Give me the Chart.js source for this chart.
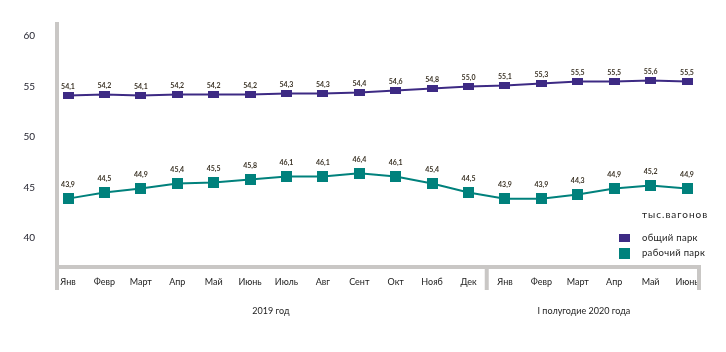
<!DOCTYPE html>
<html lang="ru">
<head>
<meta charset="utf-8">
<title>Парк вагонов</title>
<script src="https://cdn.jsdelivr.net/npm/chart.js@4/dist/chart.umd.min.js"></script>
<style>
  html, body { margin: 0; padding: 0; background: #fff; }
  #wrap { width: 726px; height: 352px; position: relative; }
</style>
</head>
<body>
<div id="wrap"><canvas id="grafico"></canvas></div>
<script>
const meses = ["Янв", "Февр", "Март", "Апр", "Май", "Июнь", "Июль", "Авг", "Сент", "Окт", "Нояб", "Дек",
  "Янв", "Февр", "Март", "Апр", "Май", "Июнь"];
const grupos = [
  { label: "2019 год", from: 0, to: 11 },
  { label: "I полугодие 2020 года", from: 12, to: 17 },
];
const obshchiyPark = [54.1, 54.2, 54.1, 54.2, 54.2, 54.2, 54.3, 54.3, 54.4, 54.6, 54.8, 55.0,
  55.1, 55.3, 55.5, 55.5, 55.6, 55.5];
const rabochiyPark = [43.9, 44.5, 44.9, 45.4, 45.5, 45.8, 46.1, 46.1, 46.4, 46.1, 45.4, 44.5,
  43.9, 43.9, 44.3, 44.9, 45.2, 44.9];
const yTicks = [40, 45, 50, 55, 60];
const unidade = "тыс.вагонов";

const FONT = "Lato, 'Open Sans', sans-serif";
const ROXO = "#3d2a84";
const VERDE = "#00817c";
const CINZA = "#c9c7c5";

function marcador(w, h, cor) {
  const c = document.createElement("canvas");
  c.width = w;
  c.height = h;
  const ctx = c.getContext("2d");
  ctx.fillStyle = cor;
  ctx.fillRect(0, 0, w, h);
  return c;
}

const marcadorRoxo = marcador(11, 7, ROXO);
const marcadorVerde = marcador(11, 11, VERDE);

function formatar(v) {
  return v.toFixed(1).replace(".", ",");
}

// lines, group captions, value labels and legend
const extras = {
  id: "extras",
  afterDatasetsDraw(chart) {
    const ctx = chart.ctx;
    const area = chart.chartArea;
    const x = chart.scales.x;
    const esq = area.left - 11;
    const dir = area.right + 12;
    const base = area.bottom + 1;
    const sep = (x.getPixelForValue(11) + x.getPixelForValue(12)) / 2;

    ctx.save();
    ctx.strokeStyle = CINZA;
    ctx.lineWidth = 4;
    ctx.beginPath();
    ctx.moveTo(esq, 22);
    ctx.lineTo(esq, 290);
    ctx.moveTo(esq, base);
    ctx.lineTo(dir + 2, base);
    ctx.moveTo(sep, base);
    ctx.lineTo(sep, 290);
    ctx.moveTo(dir, base);
    ctx.lineTo(dir, 290);
    ctx.stroke();

    ctx.fillStyle = "#222";
    ctx.font = "9px " + FONT;
    ctx.textAlign = "center";
    ctx.textBaseline = "middle";
    const limites = [esq, sep, dir];
    grupos.forEach((g, i) => {
      const cx = (limites[i] + limites[i + 1]) / 2 - (i === 1 ? 9 : 1);
      ctx.fillText(g.label, cx, 311);
    });

    // value labels
    ctx.font = "bold 7px " + FONT;
    ctx.fillStyle = "#3b3326";
    chart.data.datasets.forEach((ds, di) => {
      const meta = chart.getDatasetMeta(di);
      const dy = di === 0 ? 9 : 14;
      meta.data.forEach((pt, i) => {
        ctx.fillText(formatar(ds.data[i]), pt.x, pt.y - dy);
      });
    });

    // legend
    ctx.textAlign = "left";
    ctx.fillStyle = "#222";
    ctx.font = "10px " + FONT;
    ctx.letterSpacing = "1px";
    ctx.fillText(unidade, 642, 215);
    ctx.letterSpacing = "0.3px";
    ctx.font = "9.5px " + FONT;
    ctx.fillStyle = ROXO;
    ctx.fillRect(619, 234, 11, 8);
    ctx.fillStyle = VERDE;
    ctx.fillRect(619, 248, 11, 11);
    ctx.fillStyle = "#222";
    ctx.fillText(chart.data.datasets[0].label, 642, 238);
    ctx.fillText(chart.data.datasets[1].label, 642, 253);
    ctx.restore();
  },
};

const data = {
  labels: meses,
  datasets: [
    {
      label: "общий парк",
      data: obshchiyPark,
      borderColor: ROXO,
      backgroundColor: ROXO,
      borderWidth: 2,
      pointStyle: marcadorRoxo,
      tension: 0,
    },
    {
      label: "рабочий парк",
      data: rabochiyPark,
      borderColor: VERDE,
      backgroundColor: VERDE,
      borderWidth: 2,
      pointStyle: marcadorVerde,
      tension: 0,
    },
  ],
};

const config = {
  type: "line",
  data,
  plugins: [extras],
  options: {
    responsive: false,
    animation: false,
    layout: { padding: { top: 26, right: 39, left: 0, bottom: 0 } },
    plugins: {
      legend: { display: false },
      title: { display: false },
      tooltip: { enabled: false },
    },
    scales: {
      x: {
        offset: false,
        grid: { display: false, drawTicks: false },
        border: { display: false },
        afterFit: (s) => {
          s.height = 86;
          s.paddingLeft = 0;
          s.paddingRight = 0;
        },
        ticks: {
          padding: 11,
          autoSkip: false,
          maxRotation: 0,
          color: "#222",
          font: { family: FONT, size: 9 },
        },
      },
      y: {
        min: 37.23,
        max: 60.99,
        grid: { display: false, drawTicks: false },
        border: { display: false },
        afterFit: (s) => {
          s.width = 68;
          s.paddingTop = 0;
          s.paddingBottom = 0;
        },
        afterBuildTicks: (s) => { s.ticks = yTicks.map((v) => ({ value: v })); },
        ticks: {
          padding: 33,
          color: "#1e1e2a",
          font: { family: FONT, size: 10 },
        },
      },
    },
  },
};

const canvas = document.getElementById("grafico");
canvas.width = 726;
canvas.height = 352;
new Chart(canvas, config);
</script>
</body>
</html>
